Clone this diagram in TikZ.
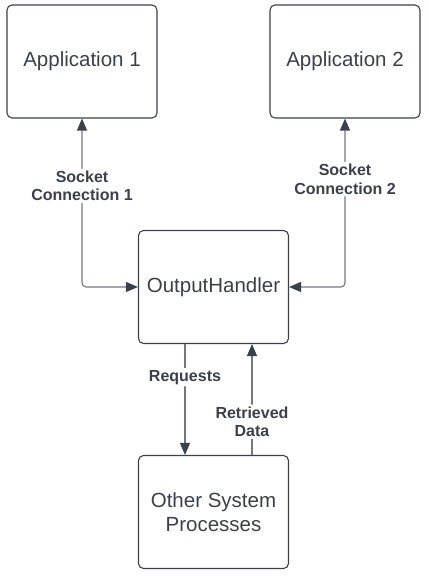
\documentclass[tikz,border=0pt]{standalone}
\usepackage{fontspec}
\setmainfont{Liberation Sans}
\usepackage{tikz}
\usetikzlibrary{arrows.meta}
\usetikzlibrary{shapes,arrows,positioning}

\definecolor{inkdark}{HTML}{3A414A}
\definecolor{linegray}{HTML}{737880}

\tikzset{
  procbox/.style={draw=inkdark, line width=1.1pt, rounded corners=5pt, minimum width=150pt, minimum height=113pt, inner sep=0pt, align=center, text=inkdark, font=\fontsize{20.5}{24.5}\selectfont},
  link/.style={draw=linegray, line width=1.1pt, rounded corners=4pt, -{Triangle[length=12pt,width=10pt,color=inkdark]}},
  twolink/.style={link, {Triangle[length=12pt,width=10pt,color=inkdark]}-{Triangle[length=12pt,width=10pt,color=inkdark]}},
  linklabel/.style={fill=white, inner sep=2pt, align=center, text=inkdark, font=\bfseries\fontsize{16}{18.5}\selectfont}
}

\begin{document}
\begin{tikzpicture}[x=1pt,y=1pt]
            \useasboundingbox (0,0) rectangle (428,-577);

            % the boxes
            \node[procbox] (app1) at (82,-61.5) {Application 1};
            \node[procbox] (app2) at (345,-61.5) {Application 2};
            \node[procbox] (handler) at (213.5,-287) {OutputHandler};
            \node[procbox] (other) at (213.5,-512) {Other System\\Processes};

            % the socket links
            \draw[twolink] (handler.west) -| node[linklabel, pos=0.8] {Socket\\Connection 1} (app1.south);
            \draw[twolink] (handler.east) -| node[linklabel, pos=0.82] {Socket\\Connection 2} (app2.south);

            % requests and data
            \draw[link] ([xshift=-28.5pt]handler.south) -- node[linklabel, pos=0.3] {Requests} ([xshift=-28.5pt]other.north);
            \draw[link] ([xshift=38.5pt]other.north) -- node[linklabel, pos=0.3] {Retrieved\\Data} ([xshift=38.5pt]handler.south);
\end{tikzpicture}
\end{document}
